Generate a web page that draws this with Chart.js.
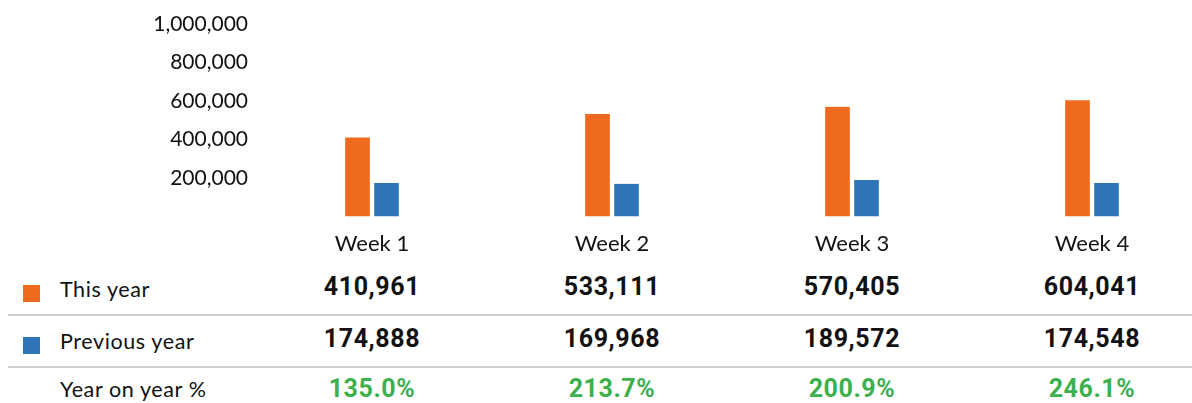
<!DOCTYPE html>
<html>
<head>
<meta charset="utf-8">
<script src="https://cdn.jsdelivr.net/npm/chart.js@4.4.1/dist/chart.umd.min.js"></script>
<style>
  html, body { margin: 0; padding: 0; background: #fff; overflow: hidden; }
  #wrap { position: relative; width: 1192px; height: 403px; overflow: hidden; }
  #chartBox { position: absolute; left: 0; top: 0; width: 1212px; height: 263px; }
  .line { position: absolute; left: 8px; width: 1184px; height: 0; border-top: 2px solid #d0d0d0; }
  .lbl { position: absolute; left: 60px; font-family: Lato, "Open Sans", sans-serif; font-size: 21.5px; color: #111;
         transform: translateY(-50%); white-space: nowrap; letter-spacing: 0.6px; }
  .sw { position: absolute; left: 23px; width: 17px; height: 17px; }
  .val { position: absolute; font-family: Roboto, "Noto Sans", sans-serif; font-weight: 700; font-size: 25px; color: #111;
         transform: translate(-50%, -50%); white-space: nowrap; letter-spacing: 0.6px; }
  .val.pct { color: #3cb04c; }
</style>
</head>
<body>
<div id="wrap">
  <div id="chartBox"><canvas id="chart"></canvas></div>
  <div id="table"></div>
</div>
<script>
/* ── data ── */
const WEEKS     = ["Week 1", "Week 2", "Week 3", "Week 4"];
const THIS_YEAR = [410961, 533111, 570405, 604041];
const PREV_YEAR = [174888, 169968, 189572, 174548];
const YOY_PCT   = ["135.0%", "213.7%", "200.9%", "246.1%"];
const Y_TICKS   = [200000, 400000, 600000, 800000, 1000000];

const ORANGE = "#ee6a1f";
const BLUE   = "#2e75b8";

function fmtNum(n) { return n.toLocaleString("en-US"); }

/* ── table under the chart, placed on the x scale ── */
const tablePlugin = {
  id: "tableRows",
  afterRender(chart) {
    const xs = chart.scales.x;
    const t = document.getElementById("table");
    if (t.dataset.done) return;
    t.dataset.done = "1";
    let html = "";
    html += `<div class="sw" style="top:285px;background:${ORANGE}"></div>`;
    html += `<div class="lbl" style="top:289px">This year</div>`;
    html += `<div class="line" style="top:314px"></div>`;
    html += `<div class="sw" style="top:337px;background:${BLUE}"></div>`;
    html += `<div class="lbl" style="top:341px">Previous year</div>`;
    html += `<div class="line" style="top:366px"></div>`;
    html += `<div class="lbl" style="top:389px">Year on year %</div>`;
    WEEKS.forEach((w, i) => {
      const x = xs.getPixelForValue(i);
      html += `<div class="val" style="left:${x}px;top:286px">${fmtNum(THIS_YEAR[i])}</div>`;
      html += `<div class="val" style="left:${x}px;top:338px">${fmtNum(PREV_YEAR[i])}</div>`;
      html += `<div class="val pct" style="left:${x}px;top:388px">${YOY_PCT[i]}</div>`;
    });
    t.innerHTML = html;
  },
};

const barBorder = { left: 2.5, right: 2.5, top: 0, bottom: 0 };

new Chart(document.getElementById("chart"), {
  type: "bar",
  data: {
    labels: WEEKS,
    datasets: [
      { label: "This year", data: THIS_YEAR, backgroundColor: ORANGE, borderColor: "#fff",
        borderWidth: barBorder, borderSkipped: false, barThickness: 29 },
      { label: "Previous year", data: PREV_YEAR, backgroundColor: BLUE, borderColor: "#fff",
        borderWidth: barBorder, borderSkipped: false, barThickness: 29 },
    ],
  },
  options: {
    responsive: true,
    maintainAspectRatio: false,
    animation: false,
    layout: { padding: { top: 24, right: 0, bottom: 0, left: 0 } },
    plugins: { legend: { display: false }, tooltip: { enabled: false } },
    scales: {
      x: {
        grid: { display: false },
        border: { display: false },
        ticks: { color: "#111", padding: 6, font: { family: "Lato", size: 22 } },
      },
      y: {
        min: 0,
        max: 1000000,
        afterFit: s => { s.width = 252; },
        afterBuildTicks: s => { s.ticks = [0, ...Y_TICKS].map(v => ({ value: v })); },
        grid: { display: false },
        border: { display: false },
        ticks: {
          color: "#111",
          padding: -4,
          font: { family: "Lato", size: 21 },
          callback: v => v === 0 ? "" : fmtNum(v),
        },
      },
    },
  },
  plugins: [tablePlugin],
});
</script>
</body>
</html>
